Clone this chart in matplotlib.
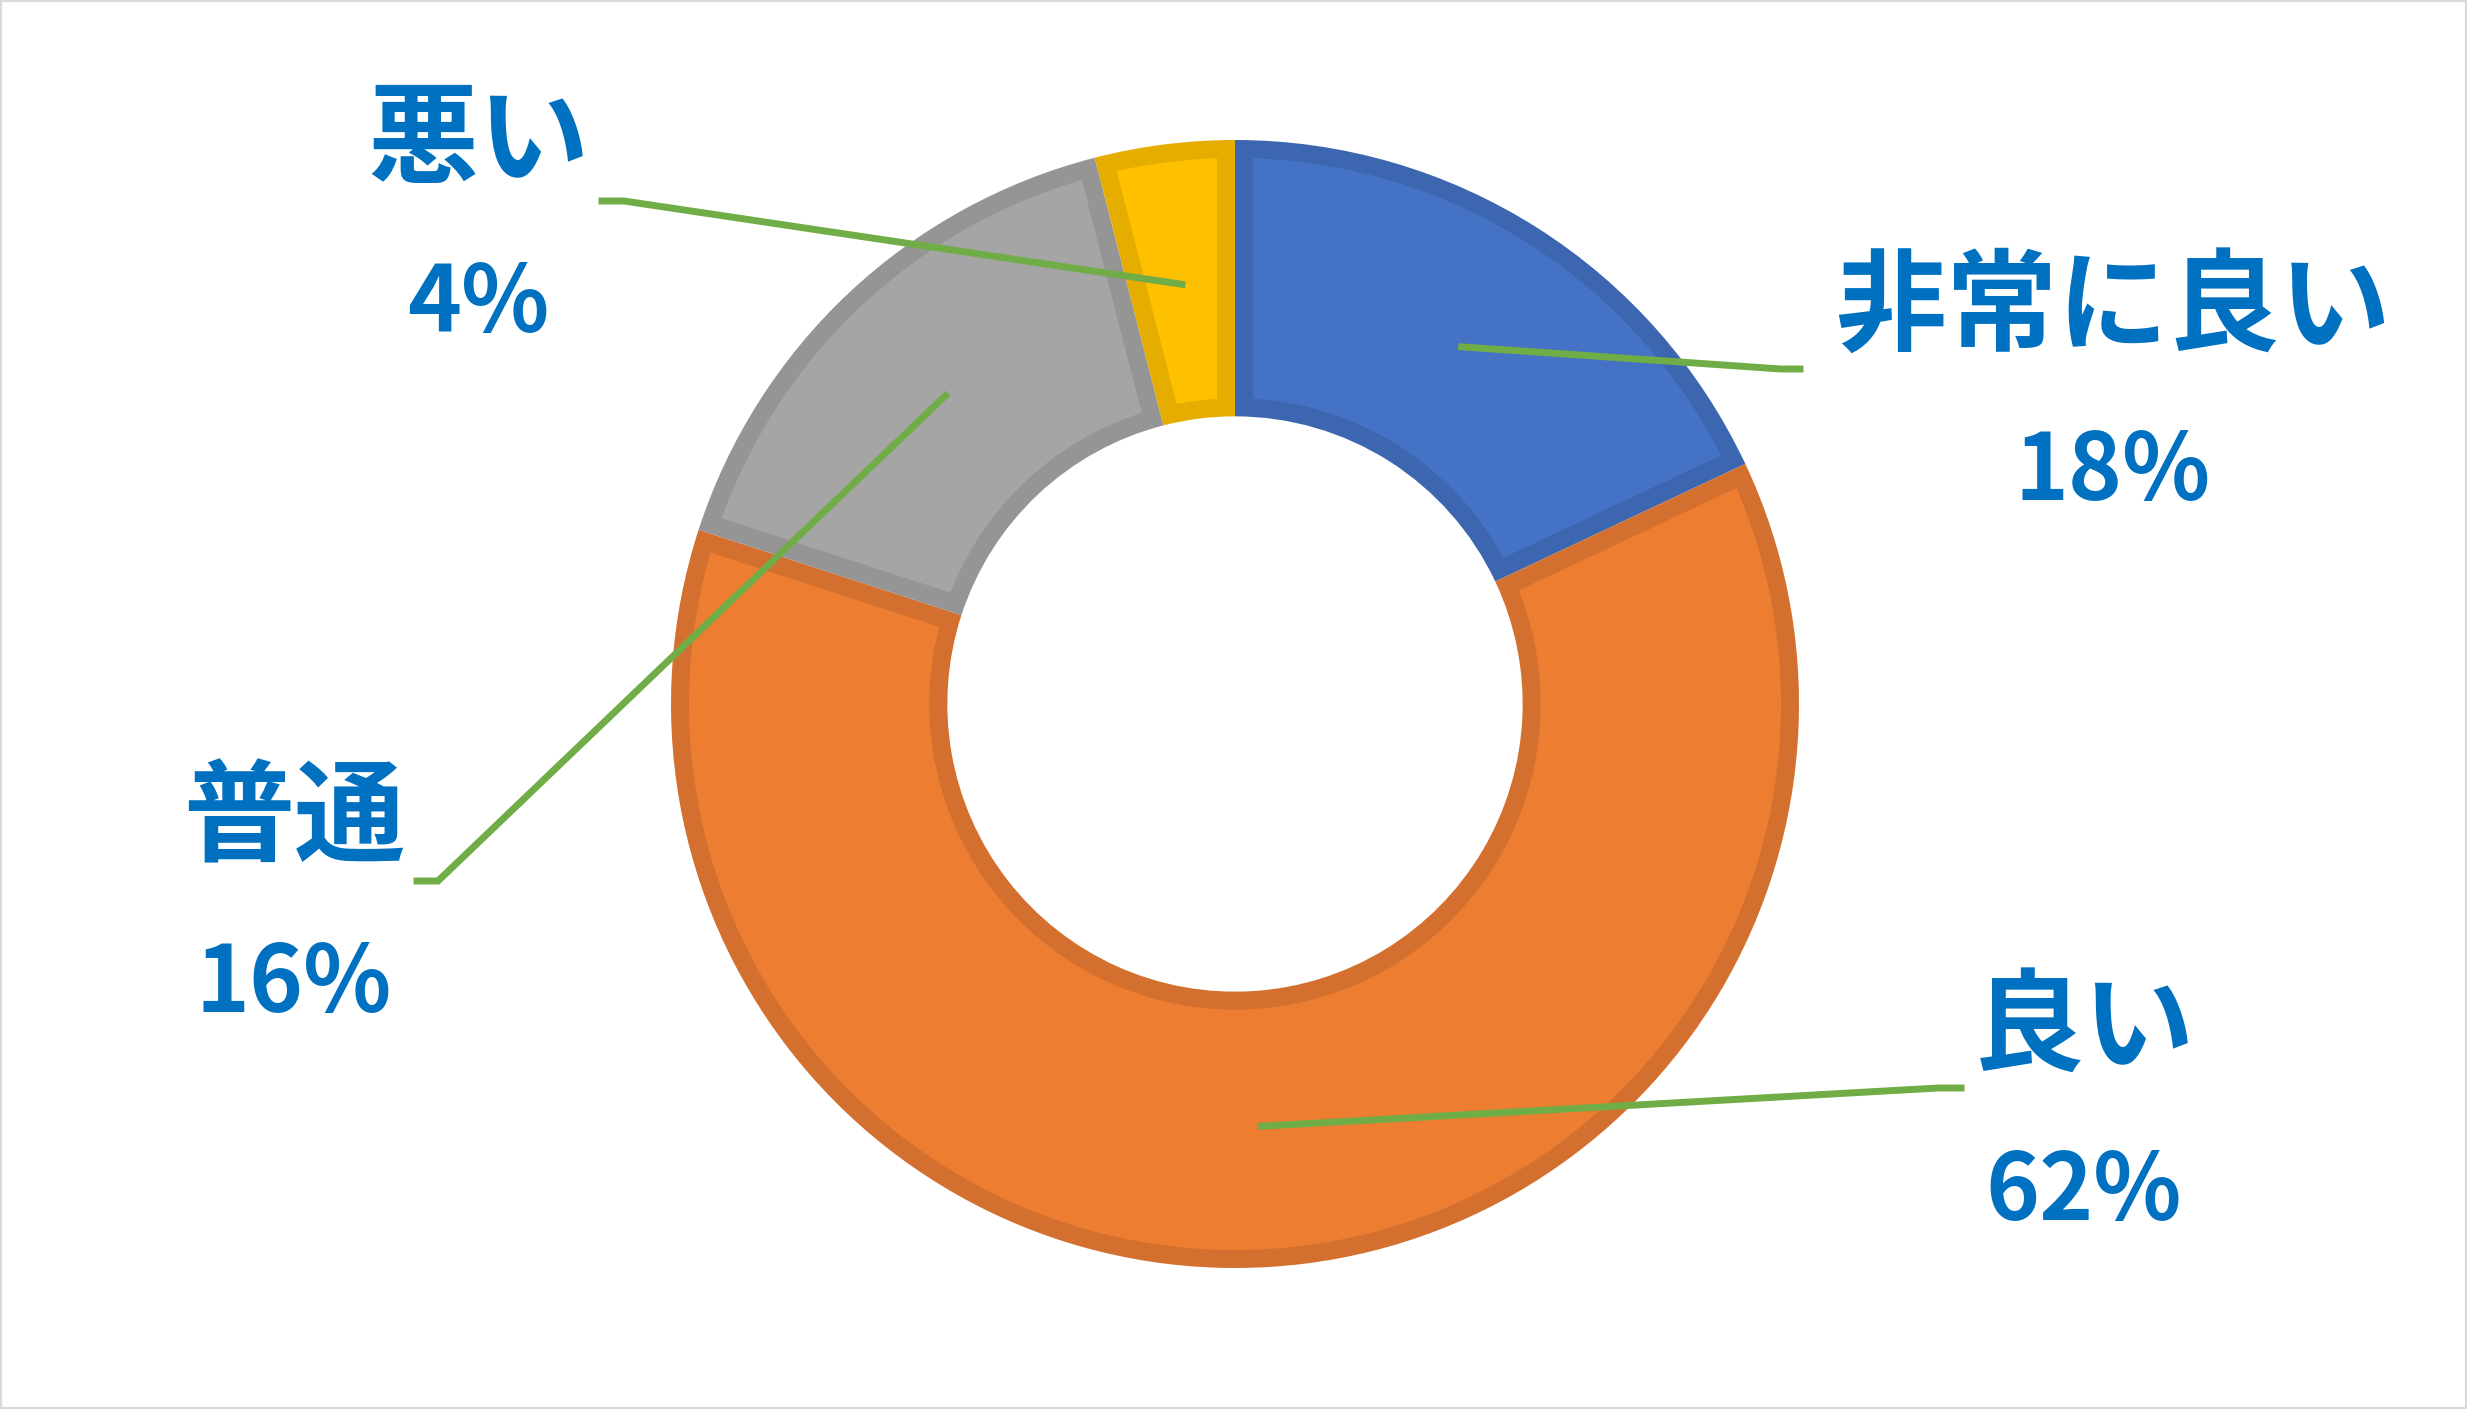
import numpy as np
import matplotlib
matplotlib.use("Agg")
import matplotlib.pyplot as plt
from matplotlib.patches import Rectangle, Polygon

# data
labels = ["非常に良い", "良い", "普通", "悪い"]
values = [18, 62, 16, 4]
colors = ["#4472C4", "#ED7D31", "#A5A5A5", "#FFC000"]
edges = ["#3C66B0", "#D4702F", "#959595", "#E5AD00"]

W, H = 2467, 1409
cx, cy = 1235, 704   # image px, y down
R = 564
border = 18          # inner border width, px

# label layout in image px: text x, name y, pct y, leader bend (x,y), leader end x
lab_x = [2113, 2084, 294, 478]
name_y = [299, 1019, 810, 132]
pct_y = [465, 1185, 977, 297]
bend = [(1781, 369), (1938, 1088), (438, 881), (624, 201)]
end_x = [1800, 1961, 417, 602]

plt.rcParams['font.family'] = ['Noto Sans CJK JP', 'DejaVu Sans']

fig = plt.figure(figsize=(W / 100, H / 100), dpi=100)
ax = fig.add_axes([0, 0, 1, 1])

# base ring in the darker edge colour
wedges, _ = ax.pie(values, colors=edges, startangle=90, counterclock=False,
                   radius=R, center=(cx, H - cy),
                   wedgeprops=dict(width=R * 0.49, linewidth=0))

# inset fill so the border sits inside each slice
for w, fc in zip(wedges, colors):
    x0, y0 = w.center
    ro = w.r - border
    ri = w.r - w.width + border
    t1, t2 = np.radians(w.theta1), np.radians(w.theta2)
    a_o = np.arcsin(border / ro)
    a_i = np.arcsin(border / ri)
    to = np.linspace(t1 + a_o, t2 - a_o, 200)
    ti = np.linspace(t2 - a_i, t1 + a_i, 200)
    xs = np.concatenate([x0 + ro * np.cos(to), x0 + ri * np.cos(ti)])
    ys = np.concatenate([y0 + ro * np.sin(to), y0 + ri * np.sin(ti)])
    ax.add_patch(Polygon(np.column_stack([xs, ys]), closed=True, facecolor=fc,
                         edgecolor='none', zorder=w.get_zorder() + 0.1))

ax.set_xlim(0, W)
ax.set_ylim(0, H)
ax.set_aspect('equal')
ax.axis('off')

# leader lines + labels
total = sum(values)
cum = 0
for i, v in enumerate(values):
    mid = np.radians(90 - 360 * (cum + v / 2) / total)
    cum += v
    sx = cx + 0.75 * R * np.cos(mid)
    sy = (H - cy) + 0.75 * R * np.sin(mid)
    bx, by = bend[i]
    ax.plot([sx, bx, end_x[i]], [sy, H - by, H - by], color="#70AD47", lw=5,
            solid_joinstyle='miter', zorder=5)
    ax.text(lab_x[i], H - name_y[i] - 11, labels[i], ha='center', va='center',
            fontsize=80, fontweight='bold', color="#0070C0")
    ax.text(lab_x[i], H - pct_y[i] - 8, f"{v}%", ha='center', va='center',
            fontsize=66, fontweight='bold', color="#0070C0")

fig.patches.append(Rectangle((0, 0), 1, 1, transform=fig.transFigure, fill=False,
                             edgecolor="#D9D9D9", linewidth=3))

fig.savefig("out.png", dpi=100, facecolor="white")
